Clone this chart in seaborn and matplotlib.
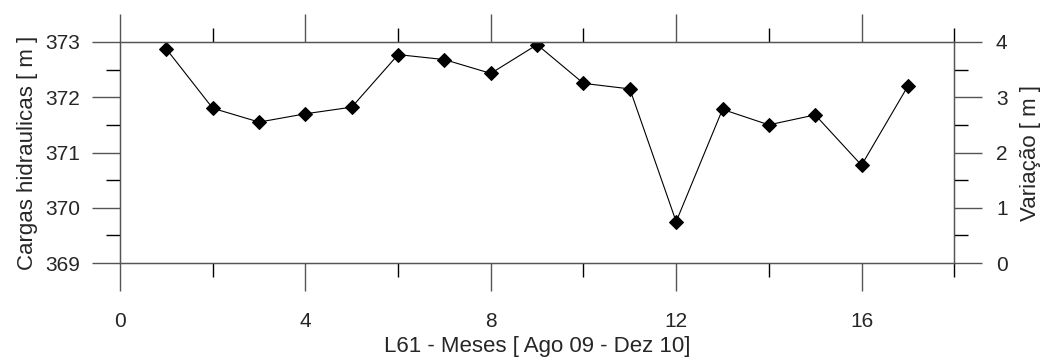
import numpy as np
import pandas as pd
import matplotlib
matplotlib.use('Agg')
import matplotlib.pyplot as plt
import seaborn as sns
from matplotlib.ticker import MultipleLocator

# data
meses = [1, 2, 3, 4, 5, 6, 7, 8, 9, 10, 11, 12, 13, 14, 15, 16, 17]
cargas = [372.87, 371.80, 371.55, 371.70, 371.82, 372.77, 372.68, 372.43, 372.95,
          372.25, 372.15, 369.75, 371.78, 371.50, 371.68, 370.77, 372.20]
x_ticks = [0, 4, 8, 12, 16]
y_ticks = [369, 370, 371, 372, 373]
var_ticks = [0, 1, 2, 3, 4]

sns.set_style('ticks')
plt.rcParams['font.family'] = ['Liberation Sans', 'DejaVu Sans']

df = pd.DataFrame({'mes': meses, 'carga': cargas})

fig = plt.figure(figsize=(10.44, 3.58), dpi=100)
ax = fig.add_axes([0.115, 0.265, 0.799, 0.618])

sns.lineplot(data=df, x='mes', y='carga', ax=ax, color='black', linewidth=0.8,
             marker='D', markersize=7.5, markeredgecolor='black', markerfacecolor='black')

ax.set_xlim(0, 18)
ax.set_ylim(369, 373)
ax.set_xticks(x_ticks)
ax.set_yticks(y_ticks)
ax.xaxis.set_minor_locator(MultipleLocator(2))
ax.yaxis.set_minor_locator(MultipleLocator(0.5))

lc = '#555555'
for s in ax.spines.values():
    s.set_visible(True)
    s.set_color(lc)
    s.set_linewidth(1.0)

ax.tick_params(axis='both', which='major', direction='out', length=20, width=1.0,
               color=lc, labelsize=15, top=True)
ax.tick_params(axis='both', which='minor', direction='out', length=10, width=1.0,
               color='black', top=True)
ax.tick_params(axis='x', which='major', pad=15)
ax.tick_params(axis='y', which='major', pad=9)
ax.tick_params(axis='x', labeltop=False)

ax.set_xlabel('L61 - Meses [ Ago 09 - Dez 10]', fontsize=16, labelpad=4)
ax.set_ylabel('Cargas hidraulicas [ m ]', fontsize=16, labelpad=5)

ax2 = ax.twinx()
ax2.set_ylim(0, 4)
ax2.set_yticks(var_ticks)
ax2.yaxis.set_minor_locator(MultipleLocator(0.5))
for s in ax2.spines.values():
    s.set_color(lc)
ax2.tick_params(axis='y', which='major', direction='out', length=20, width=1.0,
                color=lc, labelsize=15, pad=10)
ax2.tick_params(axis='y', which='minor', direction='out', length=10, width=1.0,
                color='black')
ax2.set_ylabel('Variação [ m ]', fontsize=16, labelpad=9)

fig.savefig('out.png', dpi=100)
